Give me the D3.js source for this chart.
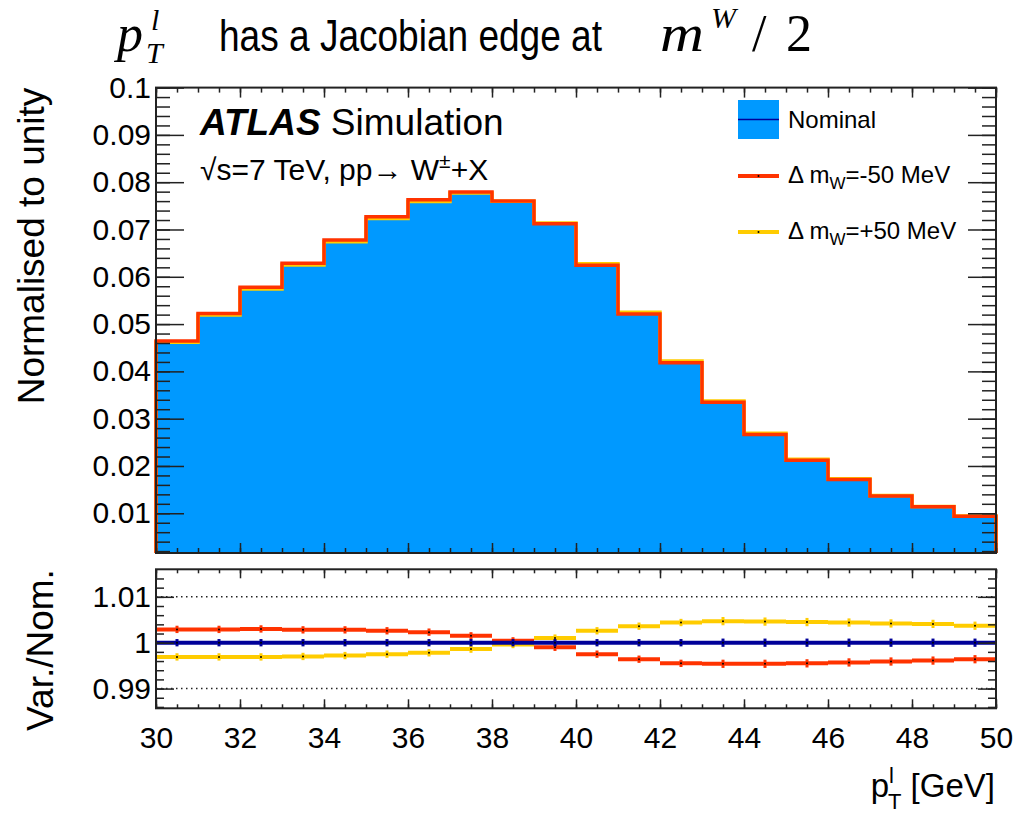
<!DOCTYPE html>
<html>
<head>
<meta charset="utf-8">
<script src="https://cdn.jsdelivr.net/npm/d3@7"></script>
<style>
  body { margin: 0; background: #fff; }
  svg { display: block; font-family: "Liberation Sans", Arial, Helvetica, sans-serif; }
</style>
</head>
<body>
<div id="chart"></div>
<script>
// bin low edges [GeV], each bin is 1 GeV wide
var binLow = [30, 31, 32, 33, 34, 35, 36, 37, 38, 39, 40, 41, 42, 43, 44, 45, 46, 47, 48, 49];
var binWidth = 1;

// upper panel, normalised distributions
var nominal = [0.0463, 0.0521, 0.0576, 0.0627, 0.0676, 0.0725, 0.0761, 0.0778, 0.0760, 0.0713,
               0.0626, 0.0523, 0.0420, 0.0336, 0.0268, 0.0213, 0.0172, 0.0137, 0.0114, 0.0094];
var massDown = [0.04643, 0.05225, 0.05777, 0.06288, 0.06779, 0.07269, 0.07628, 0.07792, 0.07603, 0.07123,
                0.06244, 0.05211, 0.04181, 0.03345, 0.02668, 0.02120, 0.01713, 0.01364, 0.01136, 0.00937];
var massUp = [0.04616, 0.05194, 0.05742, 0.06251, 0.06741, 0.07232, 0.07593, 0.07769, 0.07597, 0.07137,
              0.06276, 0.05249, 0.04218, 0.03376, 0.02692, 0.02140, 0.01728, 0.01376, 0.01145, 0.00943];

// lower panel, variation / nominal
var ratioNom = [1, 1, 1, 1, 1, 1, 1, 1, 1, 1, 1, 1, 1, 1, 1, 1, 1, 1, 1, 1];
var ratioDown = [1.0029, 1.0029, 1.0030, 1.0028, 1.0028, 1.0026, 1.0023, 1.0015, 1.0004, 0.9990,
                 0.9975, 0.9964, 0.9955, 0.9954, 0.9954, 0.9955, 0.9957, 0.9959, 0.9961, 0.9964];
var ratioUp = [0.9969, 0.9969, 0.9969, 0.9970, 0.9972, 0.9975, 0.9978, 0.9986, 0.9996, 1.0010,
               1.0026, 1.0036, 1.0044, 1.0047, 1.0046, 1.0045, 1.0044, 1.0042, 1.0041, 1.0037];
var ratioErr = [0.0008, 0.0008, 0.0008, 0.0008, 0.0008, 0.0008, 0.0008, 0.0008, 0.0008, 0.0008,
                0.0008, 0.0008, 0.0008, 0.0009, 0.0009, 0.0009, 0.0009, 0.0009, 0.0009, 0.0009];

var xTicks = [30, 32, 34, 36, 38, 40, 42, 44, 46, 48, 50];
var yTicks = [0.01, 0.02, 0.03, 0.04, 0.05, 0.06, 0.07, 0.08, 0.09, 0.1];
var yTickLabels = ["0.01", "0.02", "0.03", "0.04", "0.05", "0.06", "0.07", "0.08", "0.09", "0.1"];
var rTicks = [0.99, 1, 1.01];
var rTickLabels = ["0.99", "1", "1.01"];

var fillBlue = "#0099ff", navy = "#000099", red = "#ff3300", yellow = "#ffcc00";

var W = 1018, H = 813;
var svg = d3.select("#chart").append("svg").attr("width", W).attr("height", H);

var x = d3.scaleLinear().domain([30, 50]).range([156, 996]);
var y = d3.scaleLinear().domain([0.0016, 0.1]).range([553, 87.6]);
var r = d3.scaleLinear().domain([0.9857, 1.016]).range([708.3, 569.3]);

// ---- upper panel
function histPoints(vals) {
  var pts = [[binLow[0], y.domain()[0]]];
  vals.forEach(function(v, i) { pts.push([binLow[i], v]); });
  pts.push([binLow[vals.length - 1] + binWidth, vals[vals.length - 1]]);
  pts.push([binLow[vals.length - 1] + binWidth, y.domain()[0]]);
  return pts;
}

var area = d3.area().curve(d3.curveStepAfter)
  .x(function(d) { return x(d[0]); })
  .y0(y(y.domain()[0]))
  .y1(function(d) { return y(d[1]); });
var line = d3.line().curve(d3.curveStepAfter)
  .x(function(d) { return x(d[0]); })
  .y(function(d) { return y(d[1]); });

svg.append("path").attr("d", area(histPoints(nominal))).attr("fill", fillBlue);
svg.append("path").attr("d", line(histPoints(nominal))).attr("fill", "none").attr("stroke", navy).attr("stroke-width", 1);
svg.append("path").attr("d", line(histPoints(massUp))).attr("fill", "none").attr("stroke", yellow).attr("stroke-width", 3.5);
svg.append("path").attr("d", line(histPoints(massDown))).attr("fill", "none").attr("stroke", red).attr("stroke-width", 3.5);

// ---- ratio panel
svg.selectAll(".dotted").data([0.99, 1.01]).enter().append("line")
  .attr("x1", x(30)).attr("x2", x(50))
  .attr("y1", function(d) { return r(d); }).attr("y2", function(d) { return r(d); })
  .attr("stroke", "#222").attr("stroke-width", 1.5).attr("stroke-dasharray", "1.5,3.5");

function drawRatio(vals, color) {
  var g = svg.append("g");
  vals.forEach(function(v, i) {
    var xc = x(binLow[i] + binWidth / 2);
    g.append("line").attr("x1", x(binLow[i])).attr("x2", x(binLow[i] + binWidth))
      .attr("y1", r(v)).attr("y2", r(v)).attr("stroke", color).attr("stroke-width", 4);
    g.append("line").attr("x1", xc).attr("x2", xc)
      .attr("y1", r(v - ratioErr[i])).attr("y2", r(v + ratioErr[i]))
      .attr("stroke", color).attr("stroke-width", 3);
    g.append("circle").attr("cx", xc).attr("cy", r(v)).attr("r", 1).attr("fill", "#000");
  });
}
drawRatio(ratioUp, yellow);
drawRatio(ratioDown, red);
drawRatio(ratioNom, navy);

// ---- axes (ROOT style, ticks inside on all sides)
function ticksOn(g, axis) {
  g.call(axis);
  g.select(".domain").remove();
  g.selectAll(".tick line").attr("stroke", "#222").attr("stroke-width", 1.5);
}
var xMinor = d3.range(30, 50.01, 0.5);
var yMinor = d3.range(0.002, 0.1001, 0.002);
var rMinor = d3.range(0.986, 1.0155, 0.002);

function frame(top, bottom, yScale, majors, minors, majLen, minLen, xMaj, xMin, labels) {
  ticksOn(svg.append("g").attr("transform", "translate(0," + bottom + ")"),
    d3.axisBottom(x).tickValues(xMinor).tickSize(-xMin).tickFormat(""));
  ticksOn(svg.append("g").attr("transform", "translate(0," + top + ")"),
    d3.axisTop(x).tickValues(xMinor).tickSize(-xMin).tickFormat(""));
  ticksOn(svg.append("g").attr("transform", "translate(0," + top + ")"),
    d3.axisTop(x).tickValues(xTicks).tickSize(-xMaj).tickFormat(""));
  var bx = svg.append("g").attr("transform", "translate(0," + bottom + ")");
  ticksOn(bx, d3.axisBottom(x).tickValues(xTicks).tickSize(-xMaj).tickPadding(18)
    .tickFormat(labels ? function(d) { return d; } : ""));
  bx.selectAll("text").attr("font-size", 30).attr("fill", "#000").attr("font-family", null);

  [[d3.axisLeft, 156], [d3.axisRight, 996]].forEach(function(s) {
    ticksOn(svg.append("g").attr("transform", "translate(" + s[1] + ",0)"),
      s[0](yScale).tickValues(minors).tickSize(-minLen).tickFormat(""));
    ticksOn(svg.append("g").attr("transform", "translate(" + s[1] + ",0)"),
      s[0](yScale).tickValues(majors.values).tickSize(-majLen).tickFormat(""));
  });
  var ly = svg.append("g").attr("transform", "translate(156,0)");
  ticksOn(ly, d3.axisLeft(yScale).tickValues(majors.values).tickSize(0).tickPadding(5)
    .tickFormat(function(d, i) { return majors.labels[i]; }));
  ly.selectAll("text").attr("font-size", 30).attr("fill", "#000").attr("font-family", null);

  svg.append("rect").attr("x", 156).attr("y", top).attr("width", 840).attr("height", bottom - top)
    .attr("fill", "none").attr("stroke", "#222").attr("stroke-width", 2);
}
frame(87.6, 553, y, {values: yTicks, labels: yTickLabels}, yMinor, 28, 14, 10, 5, false);
frame(569.3, 708.3, r, {values: rTicks, labels: rTickLabels}, rMinor, 18, 8, 9, 4, true);

// ---- axis titles
svg.append("text").attr("transform", "translate(44,246) rotate(-90)")
  .attr("text-anchor", "middle").attr("font-size", 37).text("Normalised to unity");
svg.append("text").attr("transform", "translate(53,650) rotate(-90)")
  .attr("text-anchor", "middle").attr("font-size", 37).text("Var./Nom.");

var xl = svg.append("text").attr("x", 995).attr("y", 797).attr("text-anchor", "end").attr("font-size", 33);
xl.append("tspan").text("p");
xl.append("tspan").attr("font-size", 22).attr("dy", -14).text("l");
xl.append("tspan").attr("font-size", 22).attr("dx", -6).attr("dy", 26).text("T");
xl.append("tspan").attr("dy", -12).text(" [GeV]");

// ---- ATLAS label
var at = svg.append("text").attr("x", 200).attr("y", 135).attr("font-size", 37);
at.append("tspan").attr("font-weight", "bold").attr("font-style", "italic").text("ATLAS");
at.append("tspan").text(" Simulation");
var en = svg.append("text").attr("x", 200).attr("y", 180).attr("font-size", 30);
en.append("tspan").text("\u221As=7 TeV, pp\u2192 W");
en.append("tspan").attr("font-size", 21).attr("dy", -12).text("\u00B1");
en.append("tspan").attr("dy", 12).text("+X");

// ---- legend
var leg = svg.append("g");
leg.append("rect").attr("x", 738).attr("y", 100).attr("width", 41).attr("height", 39).attr("fill", fillBlue);
leg.append("line").attr("x1", 738).attr("x2", 779).attr("y1", 119.5).attr("y2", 119.5).attr("stroke", navy).attr("stroke-width", 1.5);
leg.append("text").attr("x", 788).attr("y", 128).attr("font-size", 24).text("Nominal");
[[red, 176, 183, "-50 MeV"], [yellow, 232, 239, "+50 MeV"]].forEach(function(e) {
  leg.append("line").attr("x1", 738).attr("x2", 779).attr("y1", e[1]).attr("y2", e[1]).attr("stroke", e[0]).attr("stroke-width", 4);
  leg.append("circle").attr("cx", 758.5).attr("cy", e[1]).attr("r", 1).attr("fill", "#000");
  var t = leg.append("text").attr("x", 788).attr("y", e[2]).attr("font-size", 24);
  t.append("tspan").text("\u0394 m");
  t.append("tspan").attr("font-size", 17).attr("dy", 6).text("W");
  t.append("tspan").attr("dy", -6).text("=" + e[3]);
});

// ---- title
var serif = "'Liberation Serif', 'DejaVu Serif', serif";
var tg = svg.append("g").attr("font-family", serif).attr("font-style", "italic");
tg.append("text").attr("x", 117).attr("y", 51).attr("font-size", 52).text("p");
tg.append("text").attr("x", 151).attr("y", 30).attr("font-size", 30).text("l");
tg.append("text").attr("x", 146).attr("y", 63).attr("font-size", 30).text("T");
svg.append("text").attr("transform", "translate(219,51) scale(0.842,1)").attr("font-size", 44)
  .text("has a Jacobian edge at");
tg.append("text").attr("transform", "translate(660,51) scale(1.17,1)").attr("font-size", 52).text("m");
tg.append("text").attr("x", 711).attr("y", 28).attr("font-size", 30).text("W");
svg.append("text").attr("x", 752).attr("y", 51).attr("font-size", 52).attr("font-family", serif).text("/");
svg.append("text").attr("x", 786).attr("y", 51).attr("font-size", 52).attr("font-family", serif).text("2");
</script>
</body>
</html>
